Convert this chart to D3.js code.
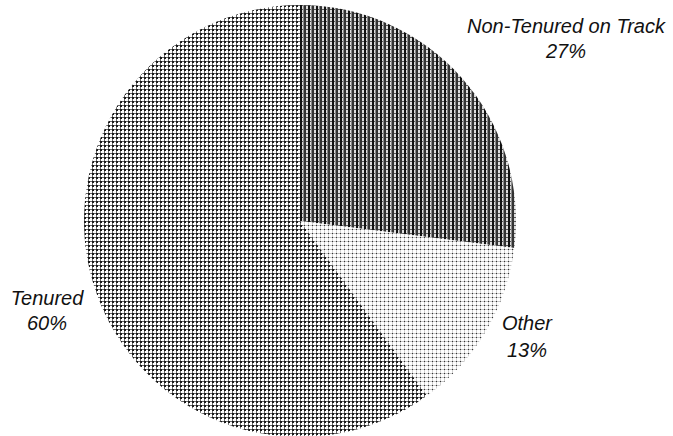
<!DOCTYPE html>
<html>
<head>
<meta charset="utf-8">
<script src="https://cdn.jsdelivr.net/npm/d3@7/dist/d3.min.js"></script>
<style>
  html, body { margin: 0; padding: 0; background: #fff; }
  svg { display: block; }
  text { font-family: "Liberation Sans", Arial, sans-serif; font-style: italic; font-size: 20px; fill: #111; }
</style>
</head>
<body>
<div id="chart"></div>
<script>
const categories = ["Non-Tenured on Track", "Other", "Tenured"];
const values = [27, 13, 60];
const percentLabels = ["27%", "13%", "60%"];
const patternIds = ["pat-nontenured", "pat-other", "pat-tenured"];

const W = 673, H = 436;
const cx = 300, cy = 221, R = 216;

const svg = d3.select("#chart").append("svg").attr("width", W).attr("height", H);
const defs = svg.append("defs");

// Tenured: medium dotted grid
const pT = defs.append("pattern").attr("id", "pat-tenured").attr("patternUnits", "userSpaceOnUse")
  .attr("width", 4).attr("height", 4);
pT.append("rect").attr("width", 4).attr("height", 4).attr("fill", "#fff");
pT.append("rect").attr("x", 0).attr("y", 0).attr("width", 4).attr("height", 1).attr("fill", "#666");
pT.append("rect").attr("x", 0).attr("y", 0).attr("width", 1).attr("height", 4).attr("fill", "#666");
pT.append("rect").attr("x", 0).attr("y", 0).attr("width", 2).attr("height", 2).attr("fill", "#1a1a1a");

// Non-tenured: dark with vertical stripes
const pN = defs.append("pattern").attr("id", "pat-nontenured").attr("patternUnits", "userSpaceOnUse")
  .attr("width", 8).attr("height", 4);
pN.append("rect").attr("width", 8).attr("height", 4).attr("fill", "#ddd");
pN.append("rect").attr("x", 0).attr("y", 0).attr("width", 8).attr("height", 1).attr("fill", "#555");
pN.append("rect").attr("x", 0).attr("y", 0).attr("width", 2).attr("height", 4).attr("fill", "#111");
pN.append("rect").attr("x", 4).attr("y", 0).attr("width", 2).attr("height", 4).attr("fill", "#333");
pN.append("rect").attr("x", 3).attr("y", 0).attr("width", 1).attr("height", 4).attr("fill", "#888");

// Other: light sparse dots
const pO = defs.append("pattern").attr("id", "pat-other").attr("patternUnits", "userSpaceOnUse")
  .attr("width", 4).attr("height", 4);
pO.append("rect").attr("width", 4).attr("height", 4).attr("fill", "#fff");
pO.append("rect").attr("x", 0).attr("y", 0).attr("width", 4).attr("height", 1).attr("fill", "#c8c8c8");
pO.append("rect").attr("x", 0).attr("y", 0).attr("width", 1).attr("height", 4).attr("fill", "#d0d0d0");
pO.append("rect").attr("x", 0).attr("y", 0).attr("width", 1).attr("height", 1).attr("fill", "#333");

const data = categories.map((c, i) => ({ name: c, value: values[i], pct: percentLabels[i], pat: patternIds[i] }));
const pie = d3.pie().sort(null).value(d => d.value);
const arc = d3.arc().innerRadius(0).outerRadius(R);

const g = svg.append("g").attr("transform", `translate(${cx},${cy})`);
g.selectAll("path").data(pie(data)).join("path")
  .attr("d", arc)
  .attr("fill", d => `url(#${d.data.pat})`);

// Labels
const labelPos = [
  { x: 566, y1: 33, y2: 58 },
  { x: 527, y1: 330, y2: 357 },
  { x: 47, y1: 305, y2: 330 }
];
data.forEach((d, i) => {
  const p = labelPos[i];
  svg.append("text").attr("x", p.x).attr("y", p.y1).attr("text-anchor", "middle").text(d.name);
  svg.append("text").attr("x", p.x).attr("y", p.y2).attr("text-anchor", "middle").text(d.pct);
});
</script>
</body>
</html>
